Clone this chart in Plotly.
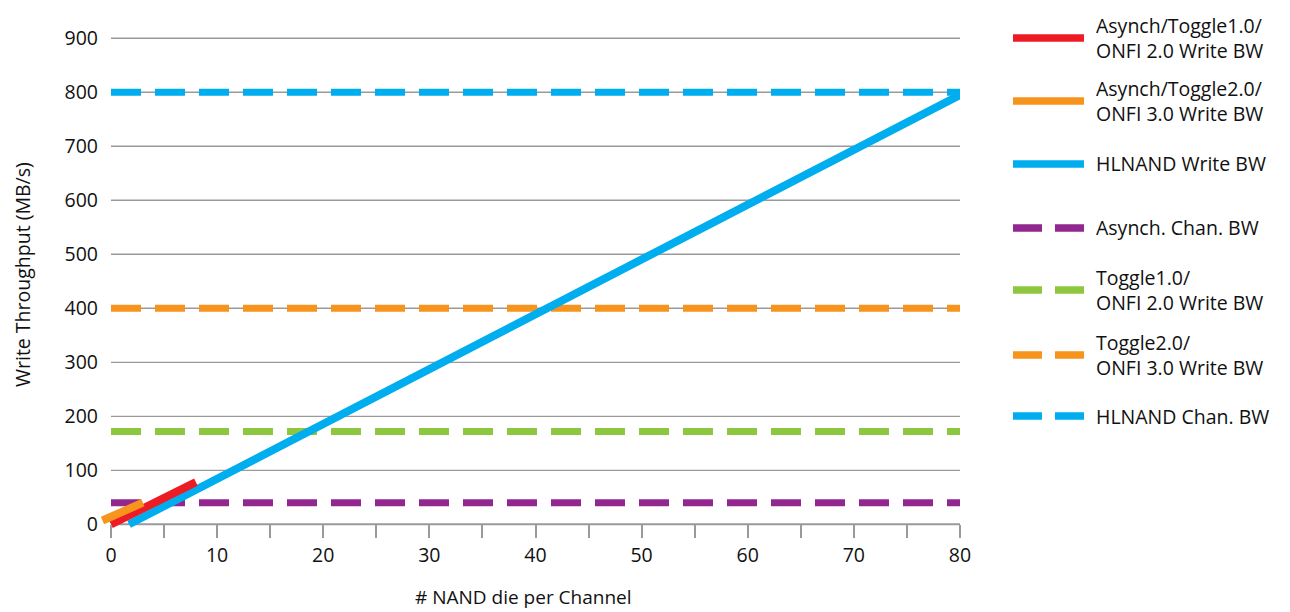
import plotly.graph_objects as go

# ---------------- data ----------------
async_t1_x = [0, 8]
async_t1_y = [0, 78]
async_t2_x = [-0.8, 3]
async_t2_y = [7, 40]
hlnand_x = [1.7, 80]
hlnand_y = [0, 795]

chan_x = [0, 80]
async_chan_bw = 40
toggle1_chan_bw = 172
toggle2_chan_bw = 400
hlnand_chan_bw = 800

y_ticks = [0, 100, 200, 300, 400, 500, 600, 700, 800, 900]
x_ticks = [0, 10, 20, 30, 40, 50, 60, 70, 80]

legend_names = [
    "Asynch/Toggle1.0/<br>ONFI 2.0 Write BW",
    "Asynch/Toggle2.0/<br>ONFI 3.0 Write BW",
    "HLNAND Write BW",
    "Asynch. Chan. BW",
    "Toggle1.0/<br>ONFI 2.0 Write BW",
    "Toggle2.0/<br>ONFI 3.0 Write BW",
    "HLNAND Chan. BW",
]

# ---------------- style ----------------
RED = "#ED1C24"
ORANGE = "#F7941D"
BLUE = "#00AEEF"
PURPLE = "#92278F"
GREEN = "#8DC63F"
GRID = "#9A9A9A"
FONT = "Open Sans"
OFF = 8  # page body margin
W, H = 1290 - OFF, 612 - OFF
ML, MR, MT, MB = 99 - OFF, 330, 35 - OFF, 83
XR = [-1.13, 80]
YR = [-8.7, 906]

fig = go.Figure()

dash_style = "30px,14px"
for val, col in [(async_chan_bw, PURPLE), (toggle1_chan_bw, GREEN),
                 (toggle2_chan_bw, ORANGE), (hlnand_chan_bw, BLUE)]:
    fig.add_trace(go.Scatter(x=chan_x, y=[val, val], mode="lines",
                             line=dict(color=col, width=7, dash=dash_style),
                             showlegend=False, hoverinfo="skip"))

fig.add_trace(go.Scatter(x=hlnand_x, y=hlnand_y, mode="lines",
                         line=dict(color=BLUE, width=8), showlegend=False))
fig.add_trace(go.Scatter(x=async_t1_x, y=async_t1_y, mode="lines",
                         line=dict(color=RED, width=8), showlegend=False))
fig.add_trace(go.Scatter(x=async_t2_x, y=async_t2_y, mode="lines",
                         line=dict(color=ORANGE, width=8), showlegend=False))

shapes = []
for t in y_ticks[1:]:
    shapes.append(dict(type="line", xref="x", yref="y", x0=0, x1=80, y0=t, y1=t,
                       line=dict(color=GRID, width=1.3), layer="below"))
shapes.append(dict(type="line", xref="x", yref="y", x0=0, x1=80, y0=0, y1=0,
                   line=dict(color=GRID, width=2), layer="below"))

pw = W - ML - MR
ph = H - MT - MB


def px_x(p):
    return (p - OFF - ML) / pw


def px_y(p):
    return (H - MB - (p - OFF)) / ph


legend_cols = [RED, ORANGE, BLUE, PURPLE, GREEN, ORANGE, BLUE]
legend_dash = ["solid", "solid", "solid", "29px,13px", "29px,13px", "29px,13px", "29px,13px"]
legend_y = [38, 101, 164, 228, 290, 355, 416]
annotations = []
for name, col, dsh, ly in zip(legend_names, legend_cols, legend_dash, legend_y):
    shapes.append(dict(type="line", xref="paper", yref="paper",
                       x0=px_x(1013), x1=px_x(1084), y0=px_y(ly), y1=px_y(ly),
                       line=dict(color=col, width=7.5, dash=dsh)))
    annotations.append(dict(xref="paper", yref="paper", x=px_x(1094), y=px_y(ly),
                            xanchor="left", yanchor="middle", align="left",
                            text=name, showarrow=False,
                            font=dict(family=FONT, size=19.5, color="#111")))

annotations.append(dict(xref="paper", yref="paper", x=px_x(523), y=px_y(597),
                        xanchor="center", yanchor="middle", showarrow=False,
                        text="# NAND die per Channel",
                        font=dict(family=FONT, size=19, color="#111")))
annotations.append(dict(xref="paper", yref="paper", x=px_x(22), y=px_y(275),
                        xanchor="center", yanchor="middle", showarrow=False,
                        textangle=-90, text="Write Throughput (MB/s)",
                        font=dict(family=FONT, size=19.5, color="#111")))

fig.update_layout(
    width=W, height=H,
    margin=dict(l=ML, r=MR, t=MT, b=MB),
    paper_bgcolor="white", plot_bgcolor="white",
    font=dict(family=FONT, size=19.5, color="#111"),
    showlegend=False,
    shapes=shapes,
    annotations=annotations,
    xaxis=dict(range=XR, tickvals=x_ticks, ticks="outside", ticklen=13,
               tickcolor=GRID, tickwidth=2, showgrid=False, zeroline=False,
               showline=False, anchor="free",
               position=(0 - YR[0]) / (YR[1] - YR[0]),
               minor=dict(dtick=5, tick0=0, ticks="outside", ticklen=13,
                          tickcolor=GRID, tickwidth=2, showgrid=False)),
    yaxis=dict(range=YR, tickvals=y_ticks, ticks="", showgrid=False,
               zeroline=False, showline=False),
)

fig.write_html("out.html")
